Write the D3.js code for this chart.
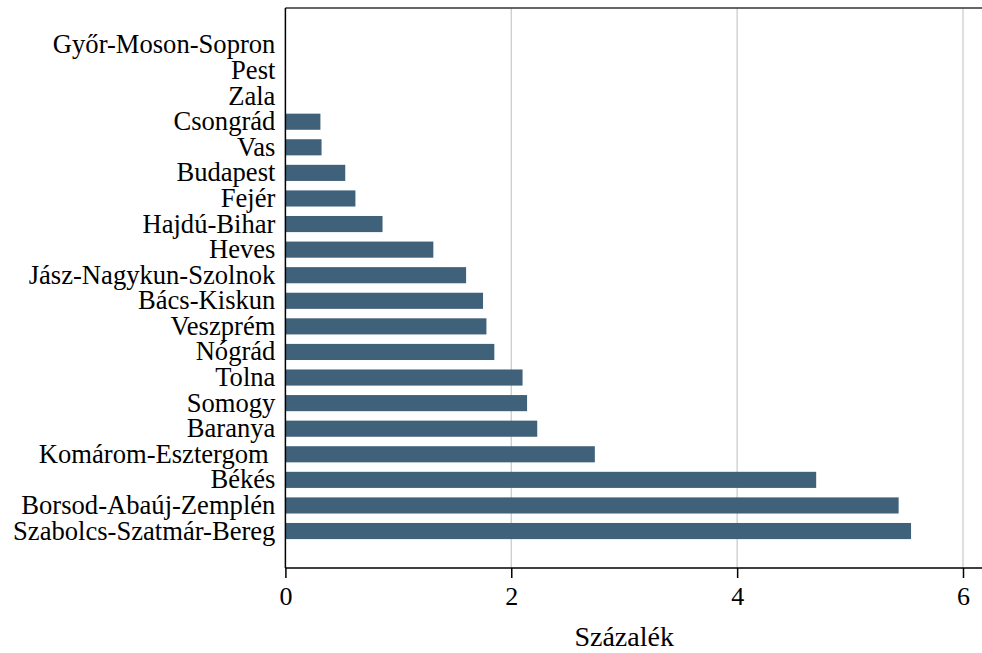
<!DOCTYPE html>
<html>
<head>
<meta charset="utf-8">
<script src="https://cdn.jsdelivr.net/npm/d3@7"></script>
<style>
  body { margin: 0; background: #fff; }
  svg { display: block; }
</style>
</head>
<body>
<svg id="chart" width="982" height="653"></svg>
<script>
const categories = [
  "Győr-Moson-Sopron", "Pest", "Zala", "Csongrád", "Vas", "Budapest", "Fejér",
  "Hajdú-Bihar", "Heves", "Jász-Nagykun-Szolnok", "Bács-Kiskun", "Veszprém",
  "Nógrád", "Tolna", "Somogy", "Baranya", "Komárom-Esztergom ", "Békés",
  "Borsod-Abaúj-Zemplén", "Szabolcs-Szatmár-Bereg"
];
const values = [
  0, 0, 0, 0.31, 0.32, 0.53, 0.62,
  0.86, 1.31, 1.60, 1.75, 1.78,
  1.85, 2.10, 2.14, 2.23, 2.74, 4.70,
  5.43, 5.54
];
const xTicks = [0, 2, 4, 6];
const xTitle = "Százalék";

(function () {
const FONT = "'Liberation Serif', 'DejaVu Serif', serif";
const svg = d3.select("#chart");
const pLeft = 285.4, pRight = 982, pTop = 8, pBottom = 568;

const x = d3.scaleLinear().domain([0, 6]).range([pLeft, 963]);
const y = d3.scaleBand().domain(categories).range([pTop, pBottom])
  .paddingInner(0.37).paddingOuter(1.13);

svg.append("g").selectAll("line").data(xTicks.filter(d => d > 0)).join("line")
  .attr("x1", d => x(d)).attr("x2", d => x(d))
  .attr("y1", pTop).attr("y2", pBottom)
  .attr("stroke", "#c8c8c8").attr("stroke-width", 1.2);

svg.append("line").attr("x1", pLeft).attr("x2", pRight).attr("y1", pTop).attr("y2", pTop)
  .attr("stroke", "#333").attr("stroke-width", 1.5);

svg.append("g").selectAll("rect").data(categories).join("rect")
  .attr("x", x(0))
  .attr("y", d => y(d))
  .attr("width", (d, i) => x(values[i]) - x(0))
  .attr("height", y.bandwidth())
  .attr("fill", "#3f6179");

const xAxis = d3.axisBottom(x).tickValues(xTicks).tickSize(10).tickPadding(9)
  .tickFormat(d3.format("d"));
const gx = svg.append("g").attr("transform", `translate(0,${pBottom})`).call(xAxis)
  .attr("font-family", null).style("font-family", FONT).attr("font-size", null);
gx.select(".domain").remove();
gx.append("line").attr("x1", pLeft).attr("x2", pRight).attr("y1", 0).attr("y2", 0)
  .attr("stroke", "#000").attr("stroke-width", 1.5);
gx.selectAll(".tick line").attr("stroke", "#000").attr("stroke-width", 1.5);
gx.selectAll(".tick text").style("font-size", "26px").style("font-family", FONT).attr("fill", "#000");

const yAxis = d3.axisLeft(y).tickSize(0).tickPadding(10);
const gy = svg.append("g").attr("transform", `translate(${pLeft},0)`).call(yAxis)
  .attr("font-family", null).style("font-family", FONT).attr("font-size", null);
gy.select(".domain").remove();
gy.append("line").attr("x1", 0).attr("x2", 0).attr("y1", pTop).attr("y2", pBottom)
  .attr("stroke", "#000").attr("stroke-width", 1.5);
gy.selectAll(".tick text").style("font-size", "26.6px").style("font-family", FONT)
  .attr("fill", "#000").style("white-space", "pre");

svg.append("text").attr("x", x(3)).attr("y", 646)
  .attr("text-anchor", "middle").style("font-family", FONT).style("font-size", "28px").text(xTitle);
})();
</script>
</body>
</html>
